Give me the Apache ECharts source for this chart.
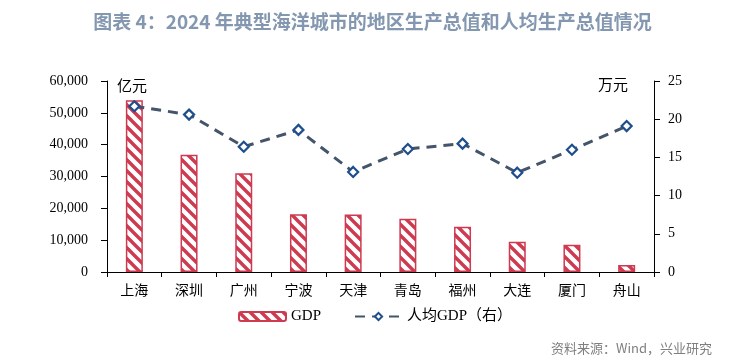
<!DOCTYPE html>
<html><head><meta charset="utf-8">
<script src="https://cdn.jsdelivr.net/npm/echarts@6/dist/echarts.min.js"></script>
<style>html,body{margin:0;padding:0;background:#fff}#c{width:745px;height:364px}</style>
</head><body><div id="c"></div>
<script>
const cities = ['上海','深圳','广州','宁波','天津','青岛','福州','大连','厦门','舟山'];
const gdp = [53927, 36802, 31032, 18148, 18024, 16719, 14237, 9516, 8589, 2226];
const gdpPerCapita = [21.7, 20.6, 16.4, 18.6, 13.1, 16.1, 16.8, 13.0, 16.0, 19.1];
const leftTicks = [0, 10000, 20000, 30000, 40000, 50000, 60000];
const rightTicks = [0, 5, 10, 15, 20, 25];

const RED = '#CE3A50';
function stripe(){
  const s = 11, cv = document.createElement('canvas');
  cv.width = s; cv.height = s;
  const g = cv.getContext('2d');
  g.fillStyle = '#fff'; g.fillRect(0,0,s,s);
  g.strokeStyle = RED; g.lineWidth = 3.4;
  g.beginPath();
  g.moveTo(-3,-3); g.lineTo(s+3,s+3);
  g.moveTo(-3,s-3); g.lineTo(3,s+3);
  g.moveTo(s-3,-3); g.lineTo(s+3,3);
  g.stroke();
  return {image: cv, repeat: 'repeat'};
}
const pat = stripe();
const chart = echarts.init(document.getElementById('c'));
const axisFont = {fontFamily: 'Liberation Serif', fontSize: 14, color: '#000'};
chart.setOption({
  animation: false,
  title: {
    text: '图表 4：2024 年典型海洋城市的地区生产总值和人均生产总值情况',
    left: 'center', top: 7,
    textStyle: {fontFamily: 'Noto Sans CJK SC', fontSize: 19, fontWeight: 'bold', color: '#8497B0'}
  },
  grid: {left: 107, right: 91, top: 81, bottom: 92},
  legend: {
    left: 233, top: 304, itemWidth: 47, itemHeight: 9, itemGap: 33,
    textStyle: {fontFamily: "'Liberation Serif','Noto Sans CJK SC'", fontSize: 15, color: '#000'},
    data: [{name: 'GDP'}, {name: '人均GDP（右）'}]
  },
  xAxis: {
    type: 'category', data: cities, boundaryGap: true,
    axisLine: {lineStyle: {color: '#000', width: 1}},
    axisTick: {show: true, length: 5, lineStyle: {color: '#000'}},
    axisLabel: {fontFamily: 'Noto Sans CJK SC', fontSize: 14, color: '#000', margin: 11}
  },
  yAxis: [{
    type: 'value', min: 0, max: 60000, interval: 10000,
    axisLine: {show: true, lineStyle: {color: '#000'}},
    axisTick: {show: true, length: 6, lineStyle: {color: '#000'}},
    splitLine: {show: false},
    axisLabel: Object.assign({margin: 19, formatter: v => leftTicks.includes(v) ? v.toLocaleString('en-US') : ''}, axisFont)
  }, {
    type: 'value', min: 0, max: 25, interval: 5,
    axisLine: {show: true, lineStyle: {color: '#000'}},
    axisTick: {show: true, length: 6, lineStyle: {color: '#000'}},
    splitLine: {show: false},
    axisLabel: Object.assign({margin: 14, formatter: v => rightTicks.includes(v) ? String(v) : ''}, axisFont)
  }],
  graphic: [
    {type: 'text', left: 117, top: 78, style: {text: '亿元', font: '15px "Noto Sans CJK SC"', fill: '#000'}},
    {type: 'text', left: 598, top: 77, style: {text: '万元', font: '15px "Noto Sans CJK SC"', fill: '#000'}},
    {type: 'text', right: 33, top: 342, style: {text: '资料来源：Wind，兴业研究', font: '13px "Noto Sans CJK SC"', fill: '#7F7F7F'}}
  ],
  series: [{
    name: 'GDP', type: 'bar', data: gdp, barWidth: 17, yAxisIndex: 0,
    itemStyle: {color: pat, borderColor: RED, borderWidth: 1.5}
  }, {
    name: '人均GDP（右）', type: 'line', data: gdpPerCapita, yAxisIndex: 1,
    symbol: 'diamond', symbolSize: 10,
    lineStyle: {color: '#44546A', width: 3, type: [10, 7]},
    itemStyle: {color: '#fff', borderColor: '#1F4E8C', borderWidth: 2.2}
  }]
});
</script></body></html>
